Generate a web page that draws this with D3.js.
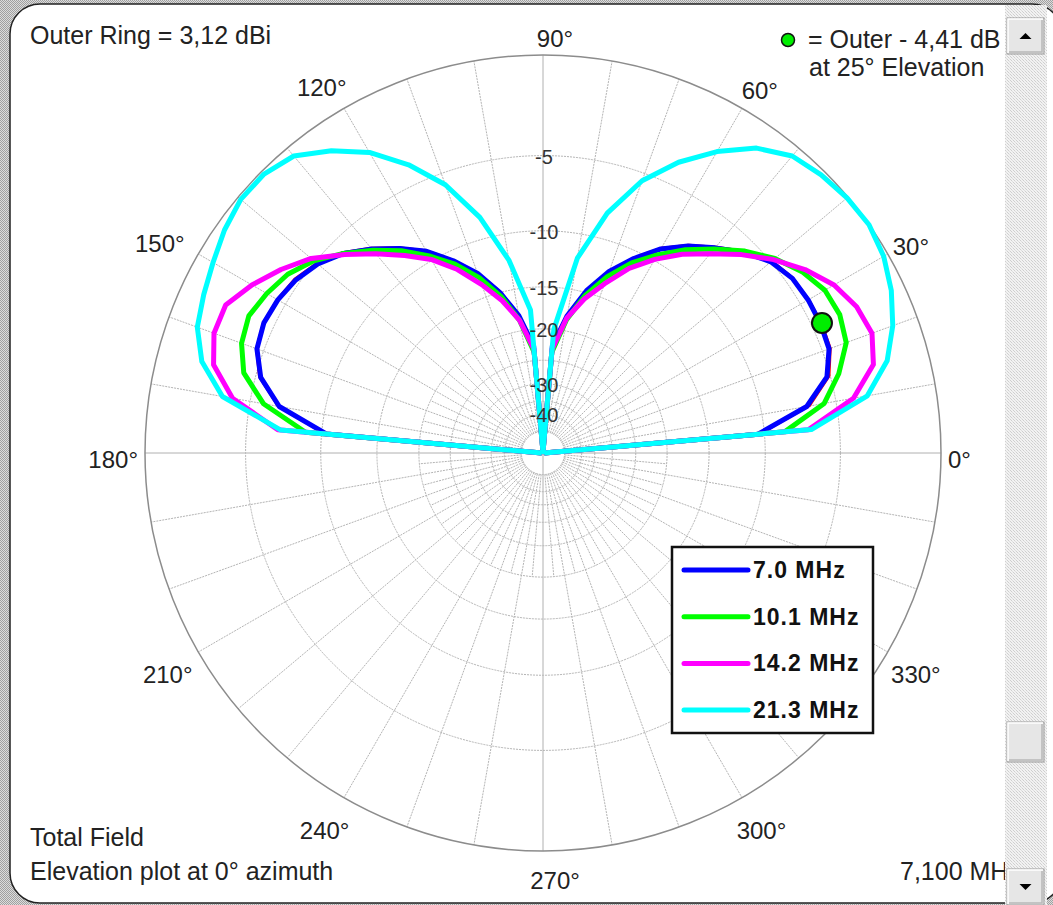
<!DOCTYPE html>
<html>
<head>
<meta charset="utf-8">
<script src="https://cdn.jsdelivr.net/npm/d3@7"></script>
<style>
  html, body { margin: 0; padding: 0; background: #fff; }
  svg { display: block; font-family: "Liberation Sans", Arial, sans-serif; }
</style>
</head>
<body>
<svg id="chart" width="1053" height="905"></svg>
<script>
// elevation angle of every sample, degrees (0 = horizon right, 180 = horizon left)
var elevation = [0, 5, 10, 15, 20, 25, 30, 35, 40, 45, 50, 55, 60, 65, 70, 75, 80, 85, 90,
                 95, 100, 105, 110, 115, 120, 125, 130, 135, 140, 145, 150, 155, 160, 165, 170, 175, 180];

// gain relative to outer ring (dB), -99 = deep null
var gain7_1 = [-99, -10.3, -6.6, -5.05, -4.5, -4.41, -4.45, -4.55, -4.9, -5.7, -6.7, -7.7, -8.9, -10.5, -12.3, -14.7, -17.9, -22.4, -99,
               -22.4, -17.9, -14.8, -12.5, -10.7, -9.1, -7.9, -6.8, -5.8, -5.1, -4.65, -4.45, -4.35, -4.55, -5.2, -6.7, -10.2, -99];
var gain7_0 = [-99, -10.5, -6.8, -5.2, -4.6, -4.5, -4.5, -4.6, -5.0, -5.8, -6.8, -7.8, -9.0, -10.6, -12.4, -14.8, -18.0, -22.5, -99,
               -22.5, -18.0, -15.0, -12.6, -10.8, -9.2, -8.0, -6.9, -5.9, -5.2, -4.75, -4.5, -4.4, -4.6, -5.3, -6.8, -10.4, -99];
var gain10_1 = [-99, -8.5, -5.7, -4.5, -3.6, -3.35, -3.45, -3.95, -4.7, -5.7, -6.9, -8.1, -9.5, -11.0, -12.9, -15.3, -18.5, -23.5, -99,
                -23.5, -18.6, -15.4, -13.0, -11.1, -9.6, -8.2, -7.0, -5.9, -4.9, -4.2, -3.8, -3.5, -3.7, -4.3, -5.8, -8.8, -99];
var gain14_2 = [-99, -6.9, -4.0, -2.6, -2.2, -2.4, -2.9, -3.75, -4.8, -6.0, -7.3, -8.5, -9.9, -11.5, -13.6, -15.7, -18.3, -23.0, -99,
                -23.0, -18.6, -15.9, -13.7, -11.6, -9.9, -8.6, -7.3, -6.0, -4.7, -3.75, -2.9, -2.2, -2.2, -2.65, -4.0, -6.9, -99];
var gain21_3 = [-99, -6.7, -3.25, -1.9, -1.15, -0.6, -0.2, 0, -0.05, -0.2, -0.45, -1.15, -2.3, -3.7, -5.45, -8.1, -12.0, -20.0, -99,
                -17.5, -12.2, -8.4, -5.7, -3.85, -2.35, -1.3, -0.45, -0.15, -0.15, -0.4, -0.75, -1.05, -1.35, -2.05, -3.45, -7.1, -99];

var legendNames = ["7.0 MHz", "10.1 MHz", "14.2 MHz", "21.3 MHz"];
var ringLevels = [-5, -10, -15, -20, -25, -30, -35, -40, -50];
var ringLabels = [-5, -10, -15, -20, -30, -40];
var angleTicks = [0, 30, 60, 90, 120, 150, 180, 210, 240, 270, 300, 330];

var outerRing = "3,12";
var markerElevation = 25, markerGain = -4.41;
var markerText = "4,41", currentFreq = "7,100 MHz";

var series = [
    { name: "7,100 MHz", values: gain7_1, color: "#ff0000", width: 2 },
    { name: legendNames[0], values: gain7_0, color: "#0000ff", width: 5 },
    { name: legendNames[1], values: gain10_1, color: "#00ff00", width: 5 },
    { name: legendNames[2], values: gain14_2, color: "#ff00ff", width: 5 },
    { name: legendNames[3], values: gain21_3, color: "#00ffff", width: 5 }
];

var width = 1053, height = 905,
    cx = 543, cy = 453, R = 398,
    gridColor = "#b4b4b4",
    textColor = "#222";

var svg = d3.select("#chart");
var defs = svg.append("defs");

// dithered greys like the old windows control
var dither = defs.append("pattern").attr("id", "dither")
    .attr("width", 2).attr("height", 2).attr("patternUnits", "userSpaceOnUse");
dither.append("rect").attr("width", 2).attr("height", 2).attr("fill", "#dcdcdc");
dither.append("rect").attr("width", 1).attr("height", 1).attr("fill", "#a0a0a0");
dither.append("rect").attr("x", 1).attr("y", 1).attr("width", 1).attr("height", 1).attr("fill", "#a0a0a0");

var track = defs.append("pattern").attr("id", "track")
    .attr("width", 3).attr("height", 3).attr("patternUnits", "userSpaceOnUse");
track.append("rect").attr("width", 3).attr("height", 3).attr("fill", "#f2f2f2");
track.append("rect").attr("width", 1).attr("height", 1).attr("fill", "#cfcfcf");
track.append("rect").attr("x", 1).attr("y", 1).attr("width", 1).attr("height", 1).attr("fill", "#dedede");
track.append("rect").attr("x", 2).attr("y", 2).attr("width", 1).attr("height", 1).attr("fill", "#cfcfcf");

svg.append("rect").attr("width", width).attr("height", height).attr("fill", "url(#dither)");
svg.append("rect")
    .attr("x", 10).attr("y", 4).attr("width", 1052).attr("height", 899)
    .attr("rx", 30).attr("ry", 30)
    .attr("fill", "#fff").attr("stroke", "#222").attr("stroke-width", 1.5);

// ARRL style log scale: radius shrinks 0.89 per 2 dB
var power = d3.scalePow().exponent(-5 * Math.log10(0.89)).domain([0, 1]).range([0, R]).clamp(true);
var r = function(db) { return power(Math.pow(10, db / 10)); };
var theta = d3.scaleLinear().domain([0, 180]).range([Math.PI / 2, -Math.PI / 2]);

var plot = svg.append("g").attr("transform", "translate(" + cx + "," + cy + ")");
var grid = plot.append("g");

grid.selectAll("circle.ring")
    .data(ringLevels)
    .join("circle")
    .attr("class", "ring")
    .attr("r", d => r(d))
    .attr("fill", "none")
    .attr("stroke", gridColor)
    .attr("stroke-width", 1)
    .attr("stroke-dasharray", "2,1");

var spokes = d3.range(0, 360, 5).filter(a => a % 90 !== 0);
grid.selectAll("line.spoke")
    .data(spokes)
    .join("line")
    .attr("class", "spoke")
    .attr("x1", a => r(-50) * Math.cos(a * Math.PI / 180))
    .attr("y1", a => -r(-50) * Math.sin(a * Math.PI / 180))
    .attr("x2", a => (a % 10 === 0 ? R : r(-20)) * Math.cos(a * Math.PI / 180))
    .attr("y2", a => -(a % 10 === 0 ? R : r(-20)) * Math.sin(a * Math.PI / 180))
    .attr("stroke", gridColor)
    .attr("stroke-width", 1)
    .attr("stroke-dasharray", "2,1");

grid.selectAll("line.axis")
    .data([0, 90])
    .join("line")
    .attr("class", "axis")
    .attr("x1", a => -R * Math.cos(a * Math.PI / 180))
    .attr("y1", a => R * Math.sin(a * Math.PI / 180))
    .attr("x2", a => R * Math.cos(a * Math.PI / 180))
    .attr("y2", a => -R * Math.sin(a * Math.PI / 180))
    .attr("stroke", "#b0b0b0")
    .attr("stroke-width", 1);

grid.append("circle")
    .attr("r", R)
    .attr("fill", "none")
    .attr("stroke", "#8c8c8c")
    .attr("stroke-width", 1.5);

// angle labels around the rim
var angleLabels = plot.selectAll("text.anglelabel")
    .data(angleTicks)
    .join("text")
    .attr("class", "anglelabel")
    .attr("text-anchor", "middle")
    .attr("dominant-baseline", "central")
    .style("font-size", "24px")
    .attr("fill", textColor)
    .text(d => d + "°");

angleLabels.each(function(a) {
    var w = this.getComputedTextLength();
    var rad = a * Math.PI / 180, s2 = Math.pow(Math.sin(rad), 2);
    var dist = 405 + w / 2 * Math.abs(Math.cos(rad)) + 16 * s2;
    var shift = 12 * Math.pow(s2, 4);
    if (a > 90 && a < 180) shift -= 12 * Math.sin(2 * (rad - Math.PI / 2));
    if (a > 180 && a < 270) shift -= 10 * s2;
    d3.select(this)
        .attr("x", dist * Math.cos(rad) + shift)
        .attr("y", -dist * Math.sin(rad) + 6);
});

// traces
var line = d3.lineRadial()
    .angle((d, i) => theta(elevation[i]))
    .radius(d => r(d));

plot.selectAll("path.trace")
    .data(series)
    .join("path")
    .attr("class", "trace")
    .attr("d", d => line(d.values))
    .attr("fill", "none")
    .attr("stroke", d => d.color)
    .attr("stroke-width", d => d.width)
    .attr("stroke-linejoin", "round");

plot.append("circle")
    .attr("cx", r(markerGain) * Math.cos(markerElevation * Math.PI / 180))
    .attr("cy", -r(markerGain) * Math.sin(markerElevation * Math.PI / 180))
    .attr("r", 10)
    .attr("fill", "#00ee00")
    .attr("stroke", "#111")
    .attr("stroke-width", 2);

// ring values sit on top of the traces
plot.selectAll("text.ringlabel")
    .data(ringLabels)
    .join("text")
    .attr("class", "ringlabel")
    .attr("x", 1)
    .attr("y", d => -r(d) + 1)
    .attr("text-anchor", "middle")
    .attr("dominant-baseline", "central")
    .style("font-size", "20px")
    .attr("fill", "#333")
    .text(d => d);

// legend
var legend = svg.append("g").attr("transform", "translate(672,547)");
legend.append("rect")
    .attr("width", 201).attr("height", 186)
    .attr("fill", "#fff").attr("stroke", "#111").attr("stroke-width", 2.5);
var items = legend.selectAll("g.item")
    .data(series.slice(1))
    .join("g")
    .attr("class", "item")
    .attr("transform", (d, i) => "translate(0," + (23 + i * 46.7) + ")");
items.append("line")
    .attr("x1", 12).attr("x2", 76)
    .attr("stroke", d => d.color)
    .attr("stroke-width", 5)
    .attr("stroke-linecap", "round");
items.append("text")
    .attr("x", 81).attr("y", 8)
    .style("font-size", "23px").style("font-weight", "bold").style("letter-spacing", "1px")
    .attr("fill", "#111")
    .text(d => d.name);

// captions
var captions = [
    { text: "Outer Ring = " + outerRing + " dBi", x: 30, y: 44 },
    { text: "= Outer - " + markerText + " dB", x: 808, y: 48 },
    { text: "at " + markerElevation + "° Elevation", x: 809, y: 76 },
    { text: "Total Field", x: 30, y: 846 },
    { text: "Elevation plot at 0° azimuth", x: 30, y: 880 },
    { text: currentFreq, x: 900, y: 880 }
];
svg.selectAll("text.caption")
    .data(captions)
    .join("text")
    .attr("class", "caption")
    .attr("x", d => d.x).attr("y", d => d.y)
    .style("font-size", "25px")
    .attr("fill", textColor)
    .text(d => d.text);

svg.append("circle")
    .attr("cx", 788).attr("cy", 40).attr("r", 6.5)
    .attr("fill", "#00ee00").attr("stroke", "#111").attr("stroke-width", 1.5);

// scrollbar on the right
var sb = svg.append("g").attr("transform", "translate(1005,0)");
sb.append("rect").attr("y", 5).attr("width", 42).attr("height", 900).attr("fill", "url(#track)");

function button(y, h, arrow) {
    var b = sb.append("g").attr("transform", "translate(2," + y + ")");
    b.append("rect").attr("width", 37).attr("height", h).attr("fill", "#e6e6e6")
        .attr("stroke", "#9a9a9a").attr("stroke-width", 1);
    b.append("path").attr("d", "M1,"+(h-1)+" V1 H36").attr("fill", "none").attr("stroke", "#fff").attr("stroke-width", 1.5);
    b.append("path").attr("d", "M2,"+(h-2)+" H35 V2").attr("fill", "none").attr("stroke", "#b8b8b8").attr("stroke-width", 1.5);
    if (arrow === "up")
        b.append("path").attr("d", "M12.5," + (h / 2 + 3) + " L18.5," + (h / 2 - 3) + " L24.5," + (h / 2 + 3) + "Z").attr("fill", "#000");
    if (arrow === "down")
        b.append("path").attr("d", "M12.5," + (h / 2 - 3) + " L18.5," + (h / 2 + 3) + " L24.5," + (h / 2 - 3) + "Z").attr("fill", "#000");
}
button(18, 36, "up");
button(722, 40, null);
button(869, 36, "down");
</script>
</body>
</html>
